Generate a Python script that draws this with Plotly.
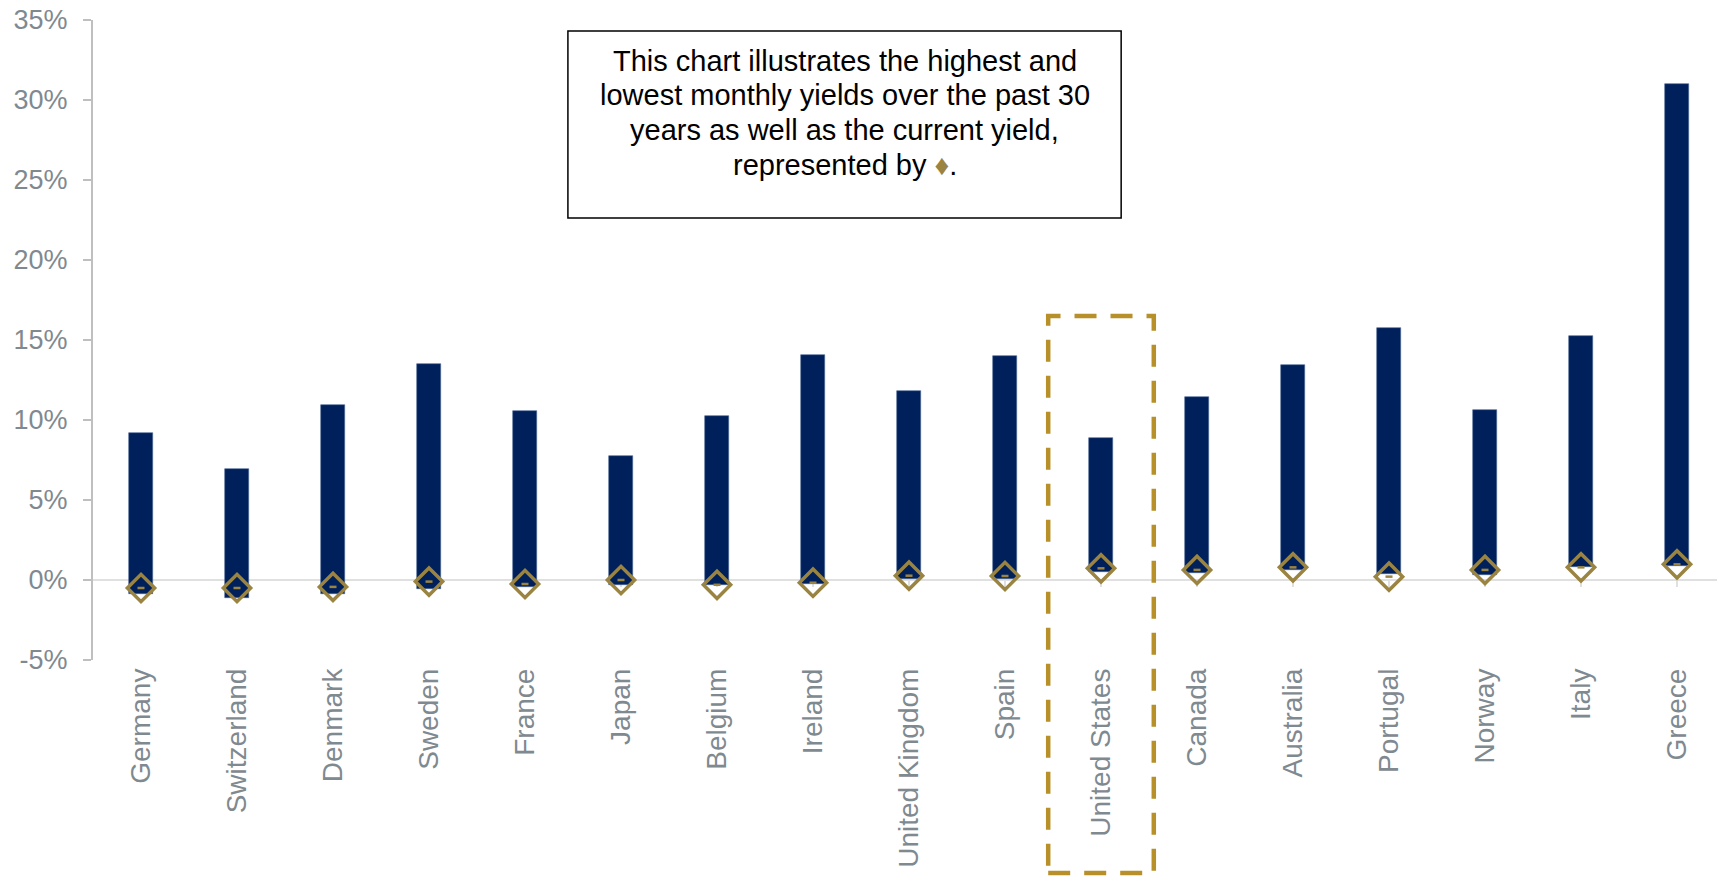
import plotly.graph_objects as go

categories = ["Germany", "Switzerland", "Denmark", "Sweden", "France", "Japan", "Belgium",
              "Ireland", "United Kingdom", "Spain", "United States", "Canada", "Australia",
              "Portugal", "Norway", "Italy", "Greece"]
high = [9.2, 6.95, 10.95, 13.5, 10.55, 7.75, 10.25, 14.05, 11.8, 14.0, 8.9, 11.45, 13.45,
        15.75, 10.65, 15.25, 31.0]
low = [-0.88, -1.1, -0.9, -0.56, -0.45, -0.3, -0.3, -0.25, 0.04, 0.04, 0.48, 0.42, 0.63,
       0.35, 0.31, 0.83, 0.88]
current = [-0.5, -0.5, -0.43, -0.1, -0.25, 0.0, -0.3, -0.17, 0.27, 0.25, 0.73, 0.63, 0.79,
           0.21, 0.63, 0.79, 0.98]
y_ticks = [-5, 0, 5, 10, 15, 20, 25, 30, 35]
y_tick_labels = ["-5%", "0%", "5%", "10%", "15%", "20%", "25%", "30%", "35%"]
highlight = "United States"
note_lines = ["This chart illustrates the highest and",
              "lowest monthly yields over the past 30",
              "years as well as the current yield,",
              "represented by <span style='color:#9b8441'>\u2666</span>."]

NAVY = "#00205B"
GOLD = "#9b8441"
DASH = "#b8902a"
GRAY = "#7f8990"
FONT = "Liberation Sans, Arial, sans-serif"

fig = go.Figure()
fig.add_trace(go.Bar(
    x=categories, y=[h - l for h, l in zip(high, low)], base=low,
    width=0.25, marker=dict(color=NAVY, line=dict(color="#4a6696", width=0.6)),
    showlegend=False, hoverinfo="skip"))
fig.add_trace(go.Scatter(
    x=categories, y=current, mode="markers",
    marker=dict(symbol="diamond-open", size=21, color=GOLD, line=dict(color=GOLD, width=3.5)),
    showlegend=False))
fig.add_trace(go.Scatter(
    x=categories, y=current, mode="markers",
    marker=dict(symbol="line-ew", size=5, color=GOLD, line=dict(color=GOLD, width=2.5)),
    showlegend=False, hoverinfo="skip"))

n = len(categories)
ymin, ymax = y_ticks[0], y_ticks[-1]
zero_pos = (0 - ymin) / (ymax - ymin)

fig.update_layout(
    width=1717, height=870,
    margin=dict(l=85, r=0, t=12, b=218, autoexpand=False),
    paper_bgcolor="white", plot_bgcolor="white",
    font=dict(family=FONT, color=GRAY),
    bargap=0,
    xaxis=dict(type="category", categoryarray=categories, range=[-0.5, n - 0.5],
               automargin=False,
               showline=False, showgrid=False, zeroline=False, ticks="",
               tickangle=-90, tickfont=dict(size=28, color=GRAY, family=FONT),
               ticklabelstandoff=2),
    xaxis2=dict(overlaying="x", anchor="free", position=zero_pos, range=[-0.5, n - 0.5],
                automargin=False, layer="below traces",
                tickvals=list(range(n)), ticks="outside", ticklen=6, tickwidth=1.5,
                tickcolor="#e0e0e0", showticklabels=False, showline=False,
                showgrid=False, zeroline=False),
    yaxis=dict(range=[ymin, ymax], tickvals=y_ticks, ticktext=y_tick_labels,
               automargin=False, ticklabeloverflow="allow",
               showline=True, linecolor="#bfbfbf", linewidth=2,
               ticks="outside", ticklen=8, tickwidth=2, tickcolor="#bfbfbf",
               ticklabelstandoff=10,
               showgrid=False, zeroline=True, zerolinecolor="#e0e0e0", zerolinewidth=2,
               tickfont=dict(size=27, color=GRAY, family=FONT)),
)

# invisible trace so xaxis2 is drawn
fig.add_trace(go.Scatter(x=[0], y=[0], xaxis="x2", mode="markers",
                         marker=dict(opacity=0), showlegend=False, hoverinfo="skip"))

# note box
fig.add_shape(type="rect", xref="paper", yref="paper", x0=0.291, x1=0.630, y0=0.6906, y1=0.983,
              line=dict(color="black", width=1.5), fillcolor="white", layer="above")
line_y = [0.9367, 0.8834, 0.8284, 0.7734]
for txt, yy in zip(note_lines, line_y):
    fig.add_annotation(xref="paper", yref="paper", x=0.4605, y=yy, xanchor="center",
                       yanchor="middle", text=txt, showarrow=False, align="center",
                       font=dict(size=29, color="black", family=FONT))

# highlight box around United States
idx = categories.index(highlight)
fig.add_shape(type="rect", xref="x", yref="paper", x0=idx - 0.55, x1=idx + 0.55,
              y0=-0.333, y1=0.5375, line=dict(color=DASH, width=4.5, dash="22px,14px"),
              layer="above")

fig.write_html("out.html")
